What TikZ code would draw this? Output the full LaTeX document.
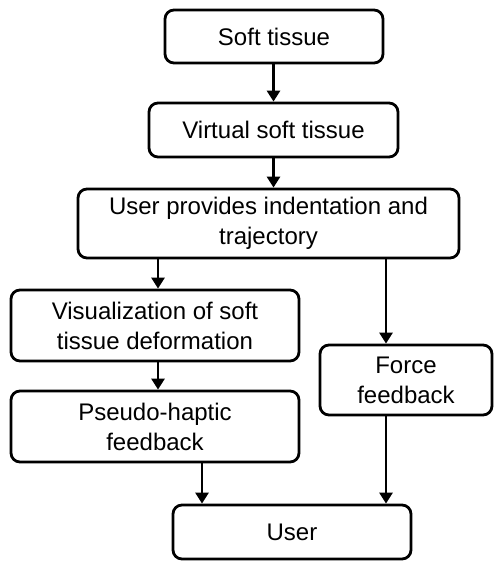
\documentclass[tikz,border=0pt]{standalone}
\usepackage{fontspec}
\setmainfont{Liberation Sans}
\usetikzlibrary{arrows.meta}
\begin{document}
\begin{tikzpicture}[x=1pt,y=1pt,
  box/.style={draw,line width=2.8pt,rounded corners=9pt,align=center,inner sep=0pt,
    font=\fontsize{24}{30}\selectfont},
  arr/.style={line width=2.8pt,-{Triangle[length=11pt,width=13pt]}}]
\useasboundingbox (0,0) rectangle (494,-561);
\node[box,minimum width=218pt,minimum height=53pt] (b1) at (274,-36.5) {Soft tissue};
\node[box,minimum width=249pt,minimum height=54pt] (b2) at (273.5,-130) {Virtual soft tissue};
\node[box,minimum width=381pt,minimum height=69pt] (b3) at (268.5,-223.5) {User provides indentation and\\trajectory};
\node[box,minimum width=288pt,minimum height=71pt] (b4) at (155,-325.5) {Visualization of soft\\tissue deformation};
\node[box,minimum width=172pt,minimum height=70pt] (b5) at (406,-380) {Force\\feedback};
\node[box,minimum width=288pt,minimum height=71pt] (b6) at (155,-426.5) {Pseudo-haptic\\feedback};
\node[box,minimum width=238pt,minimum height=54pt] (b7) at (292,-532) {User};
\coordinate (l) at ([xshift=3pt]b4.north);
\coordinate (r) at ([xshift=-20pt]b5.north);
\coordinate (p) at ([xshift=47pt]b6.south);
\draw[arr] (b1.south -| b2.north) -- (b2.north);
\draw[arr] (b2.south) -- (b3.north -| b2.south);
\draw[arr] (b3.south -| l) -- (l);
\draw[arr] (b3.south -| r) -- (r);
\draw[arr] (b4.south -| l) -- (b6.north -| l);
\draw[arr] (p) -- (b7.north -| p);
\draw[arr] (b5.south -| r) -- (b7.north -| r);
\end{tikzpicture}
\end{document}
